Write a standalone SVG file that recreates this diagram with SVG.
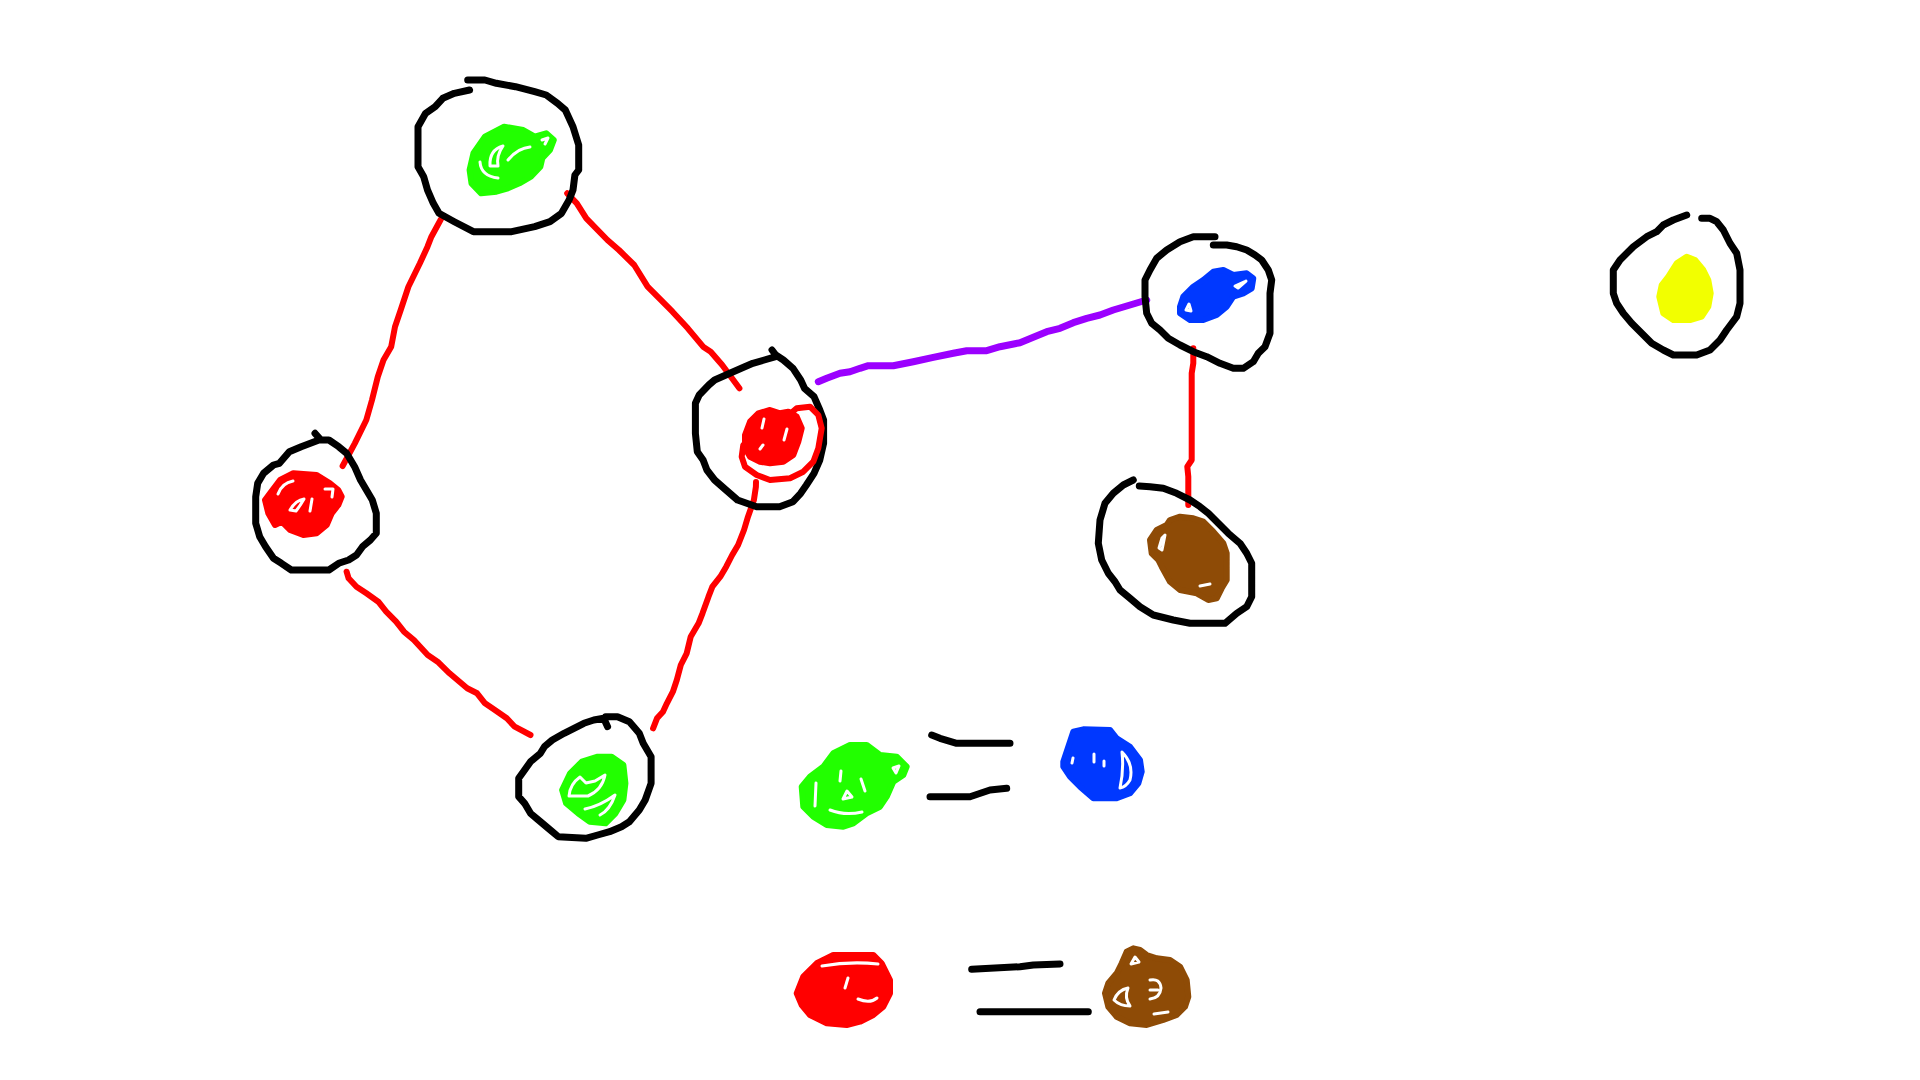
<svg xmlns="http://www.w3.org/2000/svg" width="1920" height="1080" viewBox="0 0 1920 1080">
<style>
.ring{fill:none;stroke:#000;stroke-width:7;stroke-linecap:round;stroke-linejoin:round}
.ink{fill:none;stroke:#000;stroke-width:7;stroke-linecap:round;stroke-linejoin:round}
.red{fill:none;stroke:#ff0000;stroke-width:6;stroke-linecap:round;stroke-linejoin:round}
.purple{fill:none;stroke:#9b00ff;stroke-width:7;stroke-linecap:round;stroke-linejoin:round}
.b{stroke-width:6;stroke-linejoin:round;stroke-linecap:round}
.g{fill:#22ff00;stroke:#22ff00}
.r{fill:#ff0000;stroke:#ff0000}
.bl{fill:#0038ff;stroke:#0038ff}
.br{fill:#8e4b06;stroke:#8e4b06}
.y{fill:#f2ff00;stroke:#f2ff00}
.gap{fill:none;stroke:#fff;stroke-width:3;stroke-linecap:round;stroke-linejoin:round}
.rloop{fill:none;stroke:#ff0000;stroke-width:6;stroke-linecap:round;stroke-linejoin:round}
</style>
<rect width="1920" height="1080" fill="#fff"/>

<g id="connectors">
<path class="red" d="M440.9,219.3 L431.4,236.7 L427.5,246.7 L419.9,263.3 L408.4,286.7 L400.7,310 L395,326.7 L391.2,346.7 L383.5,360 L377.8,376.7 L372,400 L366.3,420 L354.8,443.3 L342.6,466"/>
<path class="red" d="M567.2,193.3 L576.8,203.3 L586.3,218.3 L607.4,240 L618.9,250 L634.2,265 L647.6,286.7 L672.5,311.7 L687.8,328.3 L703.1,346.7 L710.7,351.7 L722.2,365 L739.4,388.3"/>
<path class="red" d="M346.6,571.7 L348.6,578.3 L356.5,586.7 L366.4,593.3 L378.3,601.7 L386.2,611.7 L396.1,621.7 L404,631.7 L413.9,640 L427.7,655 L437.6,661.7 L449.5,673.3 L461.3,683.3 L467.2,688.3 L477.1,693.3 L485,703.3 L494.9,710 L506.8,718.3 L514.7,726.7 L530.5,735"/>
<path class="red" d="M756,482 L755.9,486.7 L753.9,500 L748,516.7 L744,530 L738.1,545 L732.2,555 L726.2,566.7 L720.3,576.7 L712.4,586.7 L708.5,596.7 L702.5,613.3 L698.6,623.3 L690.7,636.7 L686.7,653.3 L680.8,665 L676.8,680 L672.9,691.7 L666.9,703.3 L663,711.7 L657,718.3 L653.1,728.3"/>
<path class="purple" d="M818.3,381.7 L826.7,378.3 L840,373.3 L850,371.7 L860,368.3 L868.3,365.7 L893.3,365.7 L913.3,361.7 L933.3,357.3 L953.3,353.3 L966.7,350.7 L986.7,350.7 L1000,346.7 L1020,342.7 L1033.3,337.3 L1046.7,331.7 L1060,328.3 L1073.3,322.7 L1086.7,318.3 L1100,315 L1113.3,310 L1126.7,306 L1146.7,300"/>
<path class="red" d="M1193.3,348.3 L1193.3,363.3 L1191.7,373.3 L1191.7,460 L1187.3,466.7 L1188.3,476.7 L1188.3,505"/>
</g>

<g id="node-a">
<path class="ring" d="M469.6,90 L454.3,93.3 L442.8,98.3 L435.2,106.7 L425.6,113.3 L418,126.7 L418,166.7 L423.7,176.7 L427.5,190 L433.3,203.3 L439,213.3 L454.3,221.7 L473.4,231.7 L511.7,231.7 L534.7,226.7 L550,221.7 L561.5,213.3 L569.1,200 L573,190 L574.9,175 L578.7,170 L578.7,145 L573,126.7 L565.3,110 L557.6,103.3 L546.2,95 L534.7,91.7 L515.5,86.7 L496.4,83.3 L484.9,80 L467.7,80"/>
<path class="b g" d="M469.6,170 L473.4,153.3 L484.9,136.7 L504.1,126.7 L523.2,130 L534.7,136.7 L546.2,133.3 L553.8,140 L550,150 L542.3,158.3 L540.4,166.7 L530.9,176.7 L519.4,183.3 L507.9,188.3 L496.4,191.7 L481.1,193.3 L471.5,183.3 Z"/>
<path class="gap" d="M490,166 Q489,150 503,146 Q496,156 498,166 Z"/>
<path class="gap" d="M508,160 Q518,148 530,147"/>
<path class="gap" d="M542,140 L548,138 L545,144"/>
<path class="gap" d="M480,162 Q481,176 498,178"/>
</g>

<g id="node-b">
<path class="ring" d="M315,433.3 L321,440 L328.9,440 L338.7,446.7 L346.6,453.3 L354.6,466.7 L360.5,480 L366.4,490 L372.3,500 L376.3,513.3 L376.3,533.3 L370.4,540 L362.5,546.7 L356.5,555 L348.6,560 L338.7,563.3 L328.9,570 L291.3,570 L281.4,563.3 L273.5,558.3 L265.6,546.7 L259.7,536.7 L255.7,523.3 L255.7,496.7 L257.7,483.3 L263.6,473.3 L273.5,465 L279.4,463.3 L289.3,451.7 L301.2,446.7 L319,440"/>
<path class="b r" d="M270,493.3 L280,480 L293.3,473.3 L316.7,475 L330,483.3 L338.3,490 L341.7,496.7 L338.3,505 L331.7,513.3 L326.7,525 L316.7,533.3 L303.3,535 L290,530 L281.7,521.7 L275,525 L268.3,513.3 L265,500 Z"/>
<path class="gap" d="M278,494 Q282,483 293,481"/>
<path class="gap" d="M290,510 Q296,500 304,499 Q300,506 296,511 Z"/>
<path class="gap" d="M325,489 L333,489 L332,497"/>
<path class="gap" d="M312,499 L310,511"/>
</g>

<g id="node-c">
<path class="ring" d="M772,350 L775.8,355 L783.4,360 L793,368.3 L800.7,380 L804.5,388.3 L814,396.7 L819.8,410 L823.6,420 L823.6,443.3 L819.8,460 L814,473.3 L806.4,485 L800.7,493.3 L793,501.7 L779.6,506.7 L756.6,506.7 L737.5,500 L726,490 L714.6,480 L706.9,470 L703.1,460 L697.3,451.7 L695.4,433.3 L695.4,403.3 L699.2,395 L708.8,385 L714.6,380 L729.9,373.3 L741.3,368.3 L752.8,363.3 L764.3,360 L775.8,356.7"/>
<path class="b r" d="M745,435 L750,421.7 L758.3,413.3 L770,410 L780,413.3 L788.3,411.7 L796.7,416.7 L801.7,428.3 L798.3,441.7 L793.3,455 L783.3,461.7 L770,463.3 L760,461.7 L750,456.7 L745,448.3 Z"/>
<path class="rloop" d="M790,414 L796.7,408.3 L810,406.7 L818.3,415 L821.7,428.3 L818.3,448.3 L813.3,461.7 L803.3,471.7 L790,478.3 L770,480 L756.7,475 L745,466.7 L741.7,456.7 L743.3,445"/>
<path class="gap" d="M764,419 L762,428"/>
<path class="gap" d="M787,429 L784,440"/>
<path class="gap" d="M763,445 L760,449"/>
</g>

<g id="node-d">
<path class="ring" d="M607.6,726.7 L603.7,718.3 L593.8,720 L583.9,723.3 L574,728.3 L564.1,733.3 L552.3,740 L544.4,746.7 L540.4,753.3 L530.5,761.7 L524.6,770 L518.7,778.3 L518.7,796.7 L524.6,803.3 L530.5,813.3 L538.4,820 L550.3,830 L558.2,836.7 L585.9,838.3 L597.7,835 L609.6,831.7 L621.5,826.7 L629.4,821.7 L639.3,810 L645.2,800 L651.1,783.3 L651.1,756.7 L643.2,743.3 L639.3,733.3 L629.4,721.7 L617.5,716.7 L605.6,716.7"/>
<path class="b g" d="M562.1,790 L570.1,773.3 L581.9,761.7 L597.7,756.7 L611.6,756.7 L623.4,765 L625.4,783.3 L623.4,800 L615.5,813.3 L605.6,823.3 L589.8,821.7 L578,813.3 L566.1,803.3 Z"/>
<path class="gap" d="M569,796 Q570,784 580,777 L586,783 L595,781 L605,775 Q602,790 588,796 Z"/>
<path class="gap" d="M585,809 Q600,806 615,795 Q610,810 600,815"/>
</g>

<g id="node-e">
<path class="ring" d="M1215,236.7 L1193.3,236.7 L1180,241.7 L1166.7,250 L1156.7,258.3 L1150,270 L1145,280 L1145,296.7 L1146.7,313.3 L1151.7,323.3 L1160,330 L1168.3,338.3 L1180,345 L1193.3,351.7 L1206.7,356.7 L1220,363.3 L1233.3,368.3 L1243.3,368.3 L1253.3,361.7 L1258.3,353.3 L1265,346.7 L1270,333.3 L1270,293.3 L1271.7,280 L1268.3,270 L1261.7,260 L1255,255 L1246.7,250 L1236.7,246.7 L1226.7,245 L1213.3,245"/>
<path class="b bl" d="M1180,306.7 L1183.3,296.7 L1193.3,286.7 L1203.3,280 L1213.3,271.7 L1223.3,270 L1233.3,275 L1246.7,273.3 L1253.3,278.3 L1251.7,288.3 L1243.3,293.3 L1233.3,296.7 L1226.7,306.7 L1216.7,315 L1203.3,320 L1190,320 L1180,313.3 Z"/>
<path class="gap" d="M1235,286 L1246,281 L1238,288 Z"/>
<path class="gap" d="M1189,304 L1191,311 L1186,310 Z"/>
</g>

<g id="node-f">
<path class="ring" d="M1133.3,480 L1123.3,485 L1113.3,493.3 L1105,503.3 L1100,520 L1098.3,543.3 L1101.7,560 L1108.3,573.3 L1115,581.7 L1120,590 L1130,598.3 L1140,606.7 L1153.3,615 L1173.3,620 L1190,623.3 L1225,623.3 L1236.7,613.3 L1246.7,606.7 L1251.7,596.7 L1251.7,563.3 L1246.7,553.3 L1240,543.3 L1228.3,533.3 L1218.3,523.3 L1208.3,513.3 L1200,506.7 L1190,500 L1176.7,493.3 L1163.3,488.3 L1150,486.7 L1139.3,486"/>
<path class="b br" d="M1170,520 L1180,516.7 L1193.3,518.3 L1203.3,521.7 L1213.3,531.7 L1223.3,543.3 L1226.7,553.3 L1226.7,580 L1221.7,588.3 L1216.7,598.3 L1208.3,600 L1196.7,593.3 L1180,590 L1170,581.7 L1161.7,566.7 L1158.3,560 L1151.7,553.3 L1150,540 L1156.7,530 L1166.7,525 Z"/>
<path class="gap" d="M1162,538 L1165,535 L1162,550 L1159,548 Z"/>
<path class="gap" d="M1200,586 L1210,584"/>
</g>

<g id="node-g">
<path class="ring" d="M1686.7,215 L1673.3,220 L1663.3,225 L1656.7,231.7 L1646.7,236.7 L1633.3,246.7 L1620,260 L1613.3,270 L1613.3,293.3 L1616.7,303.3 L1623.3,313.3 L1631.7,323.3 L1641.7,333.3 L1651.7,343.3 L1663.3,350 L1673.3,355 L1696.7,355 L1710,350 L1720,340 L1726.7,330 L1736.7,316.7 L1740,303.3 L1740,270 L1736.7,253.3 L1730,243.3 L1723.3,230 L1716.7,221.7 L1710,218.3 L1701.7,218.3"/>
<path class="b y" d="M1686.7,256.7 L1695,260 L1703.3,270 L1708.3,280 L1710.7,293.3 L1708.3,306.7 L1701.7,316.7 L1690,320 L1673.3,320 L1663.3,313.3 L1659.3,296.7 L1661.7,285 L1668.3,276.7 L1676.7,263.3 Z"/>
</g>

<g id="legend-1">
<path class="b g" d="M801.7,786.7 L810,776.7 L823.3,766.7 L833.3,753.3 L850,745 L866.7,745 L880,755 L896.7,756.7 L906.7,766.7 L903.3,775 L893.3,781.7 L886.7,796.7 L880,806.7 L866.7,813.3 L853.3,823.3 L843.3,826.7 L826.7,825 L813.3,816.7 L803.3,806.7 Z"/>
<path class="gap" d="M893,768 L899,766 L896,773 Z"/>
<path class="gap" d="M843,799 L847,791 L852,797 Z"/>
<path class="gap" d="M841,771 L840,781"/>
<path class="gap" d="M861,779 L865,791"/>
<path class="gap" d="M816,783 L815,806"/>
<path class="gap" d="M830,810 Q845,816 862,812"/>
<path class="ink" d="M931.7,735 L940,738.3 L956.7,743.3 L1010,743.3"/>
<path class="ink" d="M930,796.7 L970,796.7 L990,790 L1006.7,788.3"/>
<path class="b bl" d="M1063.3,761.7 L1068.3,746.7 L1073.3,731.7 L1083.3,729.3 L1110,730 L1116.7,738.3 L1130,746.7 L1140,760 L1141.7,771.7 L1138.3,783.3 L1130,793.3 L1116.7,798.3 L1093.3,798.3 L1080,786.7 L1070,776.7 L1063.3,766.7 Z"/>
<path class="gap" d="M1122,752 Q1134,764 1130,780 Q1126,787 1120,788 Q1124,770 1122,752 Z"/>
<path class="gap" d="M1094,754 L1094,762"/>
<path class="gap" d="M1104,761 L1104,766"/>
<path class="gap" d="M1073,758 L1072,763"/>
</g>

<g id="legend-2">
<path class="b r" d="M796.7,993.3 L803.3,976.7 L816.7,963.3 L833.3,955 L873.3,955 L881.7,963.3 L890,980 L890,993.3 L883.3,1006.7 L873.3,1015 L860,1021.7 L846.7,1025 L826.7,1023.3 L810,1015 L801.7,1005 Z"/>
<path class="gap" d="M822,966 Q850,961 878,964"/>
<path class="gap" d="M848,978 L845,988"/>
<path class="gap" d="M858,999 Q870,1004 877,998"/>
<path class="ink" d="M971.7,969.3 L1020,966.7 L1033.3,965 L1060,964"/>
<path class="ink" d="M980,1011.7 L1088.3,1011.7"/>
<path class="b br" d="M1126.7,951.7 L1133.3,948.3 L1140,950 L1146.7,955 L1156.7,958.3 L1170,960 L1180,966.7 L1186.7,980 L1188.3,996.7 L1185,1006.7 L1176.7,1015 L1163.3,1020 L1146.7,1025 L1130,1023.3 L1116.7,1016.7 L1108.3,1006.7 L1105,993.3 L1108.3,983.3 L1116.7,973.3 L1121.7,963.3 Z"/>
<path class="gap" d="M1131,964 L1135,957 L1139,962 Z"/>
<path class="gap" d="M1114,1000 Q1118,990 1128,988 Q1124,998 1130,1006 Q1120,1006 1114,1000 Z"/>
<path class="gap" d="M1150,980 Q1160,978 1161,988 Q1160,998 1150,999"/>
<path class="gap" d="M1150,990 L1158,990"/>
<path class="gap" d="M1154,1014 L1168,1012"/>
</g>
</svg>
